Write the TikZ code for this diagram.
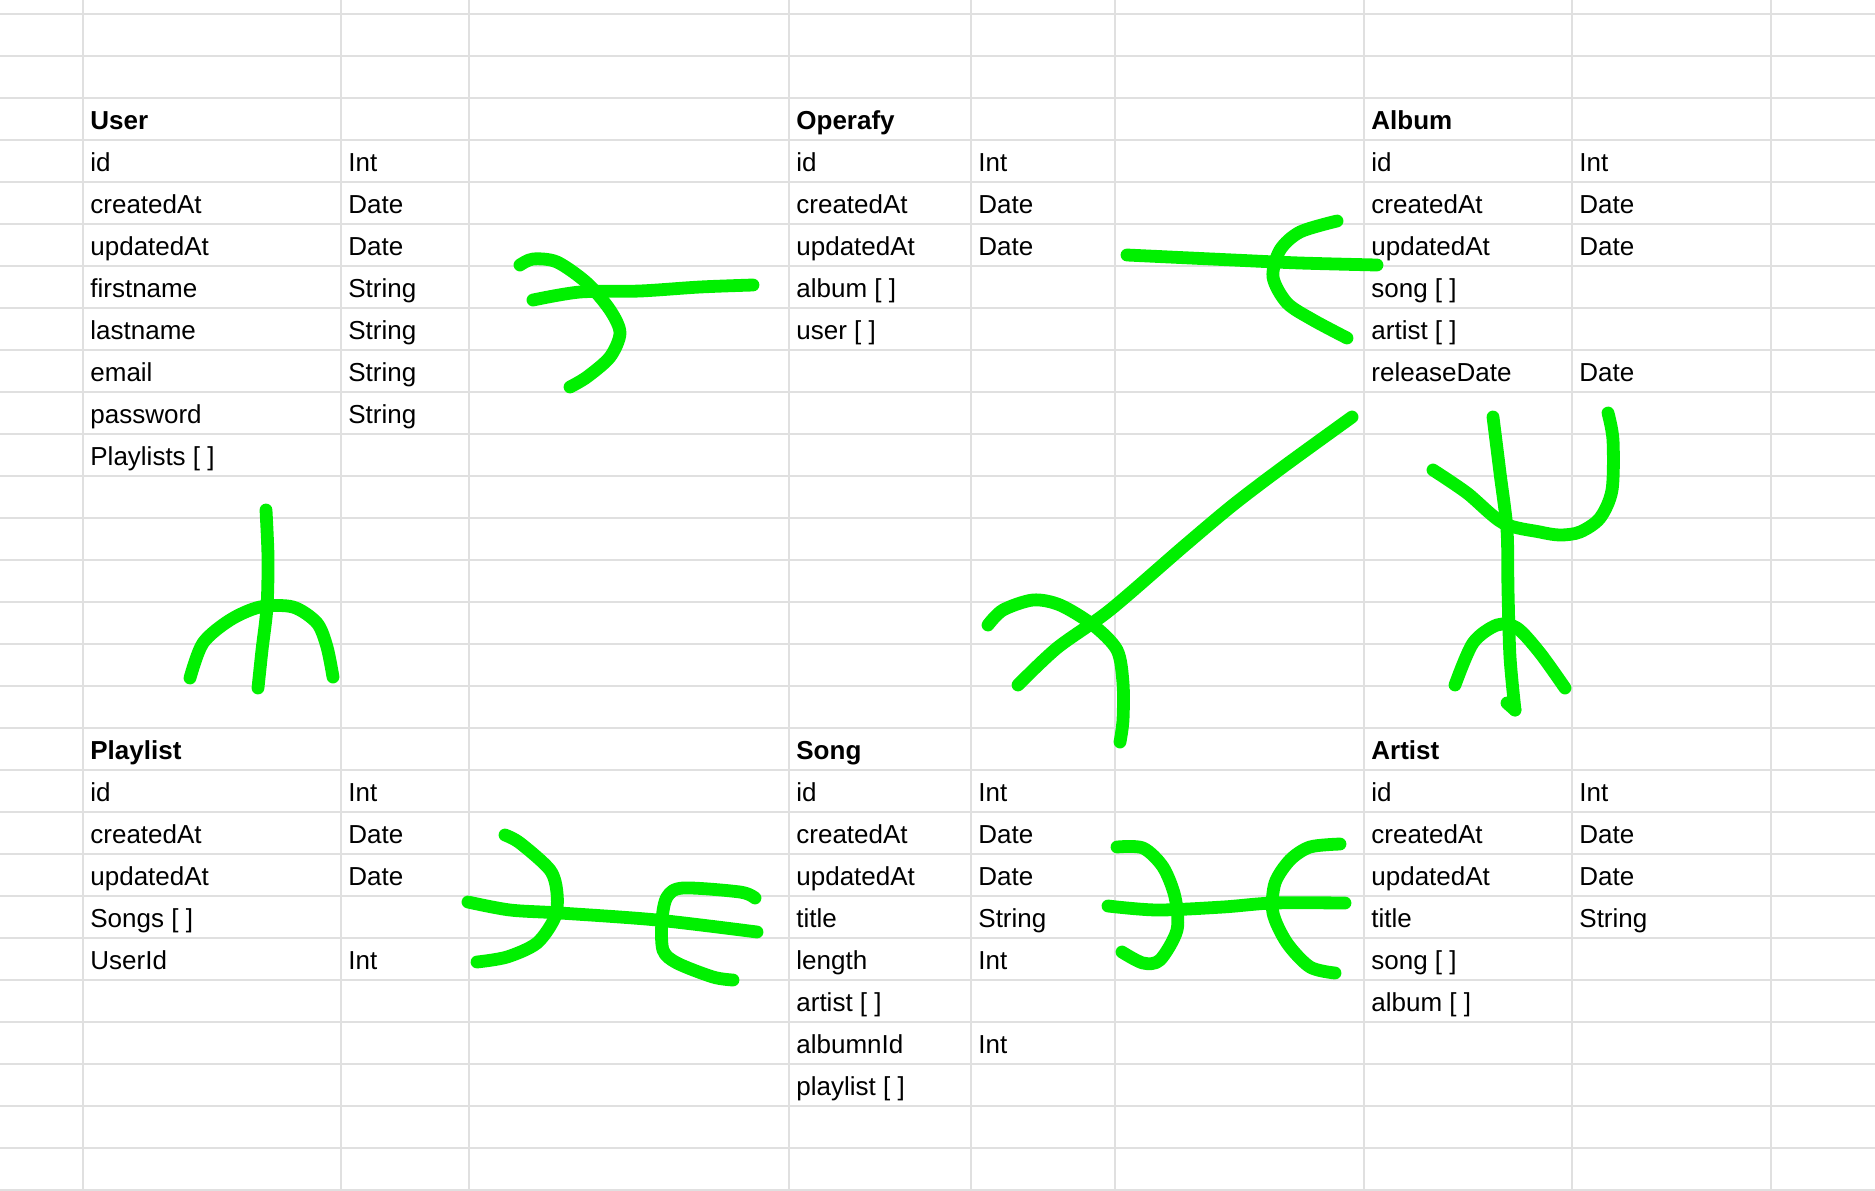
\documentclass[tikz,border=0pt]{standalone}
\usepackage{fontspec}
\setmainfont{Liberation Sans}
\definecolor{gridgray}{RGB}{224,224,224}
\definecolor{marker}{RGB}{0,240,0}

\begin{document}
\begin{tikzpicture}[
  x=0.5pt, y=-0.5pt,
  font=\fontsize{13}{15}\selectfont,
  cell/.style={anchor=base west, inner sep=0pt},
  head/.style={cell, font=\fontsize{13}{15}\selectfont\bfseries},
  gridline/.style={draw=gridgray, line width=1pt},
  pen/.style={draw=marker, line width=6.4pt, line cap=round, line join=round},
]
\useasboundingbox (0,0) rectangle (1875,1190);
\fill[white] (0,0) rectangle (1875,1190);
\foreach \k in {0,...,28} \draw[gridline] (0,14+42*\k) -- (1875,14+42*\k);
\foreach \x in {82.7,341,469,789,971,1114.5,1364,1572,1771} \draw[gridline] (\x,0) -- (\x,1190);

\node[head] (user) at (90,129) {User};
\foreach \f/\t [count=\i] in {id/Int, createdAt/Date, updatedAt/Date, firstname/String,
  lastname/String, email/String, password/String, Playlists [ ]/{}} {
  \node[cell] (user-\i) at (90,129+42*\i) {\f};
  \node[cell] (user-\i-t) at (348,129+42*\i) {\t};
}
\node[head] (operafy) at (796,129) {Operafy};
\foreach \f/\t [count=\i] in {id/Int, createdAt/Date, updatedAt/Date, album [ ]/{}, user [ ]/{}} {
  \node[cell] (operafy-\i) at (796,129+42*\i) {\f};
  \node[cell] (operafy-\i-t) at (978,129+42*\i) {\t};
}
\node[head] (album) at (1371,129) {Album};
\foreach \f/\t [count=\i] in {id/Int, createdAt/Date, updatedAt/Date, song [ ]/{}, artist [ ]/{},
  releaseDate/Date} {
  \node[cell] (album-\i) at (1371,129+42*\i) {\f};
  \node[cell] (album-\i-t) at (1579,129+42*\i) {\t};
}
\node[head] (playlist) at (90,759) {Playlist};
\foreach \f/\t [count=\i] in {id/Int, createdAt/Date, updatedAt/Date, Songs [ ]/{}, UserId/Int} {
  \node[cell] (playlist-\i) at (90,759+42*\i) {\f};
  \node[cell] (playlist-\i-t) at (348,759+42*\i) {\t};
}
\node[head] (song) at (796,759) {Song};
\foreach \f/\t [count=\i] in {id/Int, createdAt/Date, updatedAt/Date, title/String, length/Int,
  artist [ ]/{}, albumnId/Int, playlist [ ]/{}} {
  \node[cell] (song-\i) at (796,759+42*\i) {\f};
  \node[cell] (song-\i-t) at (978,759+42*\i) {\t};
}
\node[head] (artist) at (1371,759) {Artist};
\foreach \f/\t [count=\i] in {id/Int, createdAt/Date, updatedAt/Date, title/String, song [ ]/{},
  album [ ]/{}} {
  \node[cell] (artist-\i) at (1371,759+42*\i) {\f};
  \node[cell] (artist-\i-t) at (1579,759+42*\i) {\t};
}

% user -- operafy
\draw[pen] plot[smooth] coordinates {(533,300) (580,292) (640,291) (700,287) (753,285)};
\draw[pen] plot[smooth] coordinates {(520,265) (533,259) (557,262) (587,283) (610,310) (620,333) (610,357) (587,377) (570,387)};
% operafy -- album
\draw[pen] plot[smooth] coordinates {(1127,255) (1233,260) (1300,263) (1377,265)};
\draw[pen] plot[smooth] coordinates {(1337,221) (1300,232) (1280,250) (1273,277) (1287,303) (1313,320) (1347,338)};
% album -- song
\draw[pen] plot[smooth] coordinates {(1352,417) (1283,467) (1233,505) (1183,547) (1110,610) (1057,648) (1018,685)};
\draw[pen] plot[smooth] coordinates {(988,625) (1003,610) (1033,600) (1060,605) (1093,625) (1117,650) (1123,683) (1123,720) (1120,742)};
% album -- artist
\draw[pen] plot[smooth] coordinates {(1493,417) (1500,473) (1507,530) (1508,590) (1510,657) (1515,710)};
\draw[pen] (1507,703) -- (1515,710);
\draw[pen] plot[smooth] coordinates {(1433,470) (1467,493) (1503,523) (1540,532) (1560,535) (1580,532) (1600,518) (1612,490) (1613,440) (1608,413)};
\draw[pen] plot[smooth] coordinates {(1455,685) (1473,643) (1497,625) (1517,628) (1540,653) (1565,688)};
% user -- playlist
\draw[pen] plot[smooth] coordinates {(266,510) (268,557) (267,607) (262,650) (258,688)};
\draw[pen] plot[smooth] coordinates {(190,678) (203,643) (230,620) (260,607) (293,607) (317,623) (327,647) (333,677)};
% playlist -- song
\draw[pen] plot[smooth] coordinates {(468,902) (510,910) (560,913) (657,920) (757,932)};
\draw[pen] plot[smooth] coordinates {(505,835) (520,843) (550,870) (557,893) (555,917) (537,943) (507,957) (477,962)};
\draw[pen] plot[smooth] coordinates {(755,898) (740,892) (683,888) (667,897) (662,920) (663,950) (677,963) (713,977) (733,980)};
% song -- artist
\draw[pen] plot[smooth] coordinates {(1108,906) (1157,910) (1223,907) (1273,903) (1345,903)};
\draw[pen] plot[smooth] coordinates {(1117,847) (1143,848) (1163,867) (1175,897) (1177,930) (1160,960) (1143,963) (1122,952)};
\draw[pen] plot[smooth] coordinates {(1340,844) (1310,847) (1290,860) (1275,883) (1273,913) (1287,943) (1310,967) (1335,973)};
\end{tikzpicture}
\end{document}
